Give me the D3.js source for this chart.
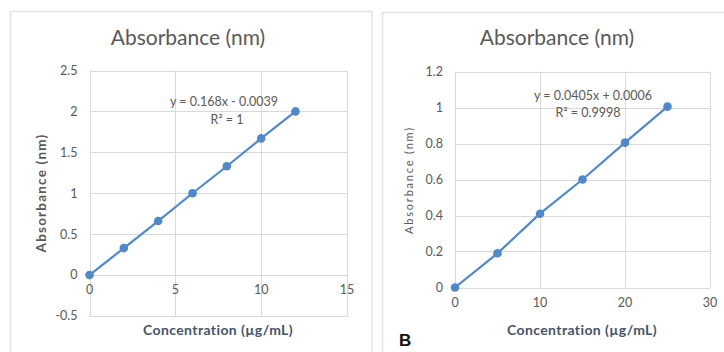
<!DOCTYPE html>
<html><head><meta charset="utf-8">
<script src="https://cdn.jsdelivr.net/npm/d3@7"></script>
<style>
html,body{margin:0;padding:0;background:#fff;}
svg{display:block;font-family:Lato,"Open Sans",sans-serif;}
</style></head>
<body>
<svg id="c" width="724" height="352"></svg>
<script>
// Panel A
const concA = [0, 2, 4, 6, 8, 10, 12];
const absA = [0, 0.33, 0.66, 1.0, 1.33, 1.67, 2.0];
const xTicksA = [0, 5, 10, 15];
const yTicksA = [-0.5, 0, 0.5, 1, 1.5, 2, 2.5];
const eqA = ["y = 0.168x - 0.0039", "R² = 1"];
// Panel B
const concB = [0, 5, 10, 15, 20, 25];
const absB = [0, 0.19, 0.41, 0.60, 0.805, 1.005];
const xTicksB = [0, 10, 20, 30];
const yTicksB = [0, 0.2, 0.4, 0.6, 0.8, 1, 1.2];
const eqB = ["y = 0.0405x + 0.0006", "R² = 0.9998"];
const titleText = "Absorbance (nm)";
const xTitleText = "Concentration (µg/mL)";
const yTitleText = "Absorbance (nm)";

const svg = d3.select("#c");
const grid = "#d9d9d9", txt = "#595959", blue = "#5088c9", xtc = "#44546a";

function panel(o) {
  const g = svg.append("g");
  g.append("rect").attr("x", o.frame[0]).attr("y", o.frame[1])
    .attr("width", o.frame[2]).attr("height", o.frame[3])
    .attr("fill", "#fff").attr("stroke", "#e3e3e3").attr("stroke-width", 1.5);
  const x = d3.scaleLinear().domain(o.xd).range(o.xr);
  const y = d3.scaleLinear().domain(o.yd).range(o.yr);
  g.selectAll(".hg").data(o.yt).join("line")
    .attr("x1", o.xr[0]).attr("x2", o.xr[1])
    .attr("y1", d => Math.round(y(d)) + 0.5).attr("y2", d => Math.round(y(d)) + 0.5)
    .attr("stroke", grid).attr("stroke-width", 1);
  g.selectAll(".vg").data(o.xt).join("line")
    .attr("y1", o.yr[0]).attr("y2", o.yr[1])
    .attr("x1", d => Math.round(x(d)) + 0.5).attr("x2", d => Math.round(x(d)) + 0.5)
    .attr("stroke", grid).attr("stroke-width", 1);
  g.selectAll(".yl").data(o.yt).join("text")
    .attr("x", o.xr[0] - 12).attr("y", d => y(d)).attr("dy", "0.35em")
    .attr("text-anchor", "end").attr("font-size", 12.5).attr("fill", txt)
    .text(d => d);
  g.selectAll(".xl").data(o.xt).join("text")
    .attr("x", d => x(d)).attr("y", y(0) + 19)
    .attr("text-anchor", "middle").attr("font-size", 12.5).attr("fill", txt)
    .text(d => d);
  g.append("text").attr("x", o.title[0]).attr("y", o.title[1])
    .attr("text-anchor", "middle").attr("font-size", 21).attr("fill", txt)
    .text(titleText);
  g.append("text").attr("x", o.xtitle[0]).attr("y", o.xtitle[1])
    .attr("text-anchor", "middle").attr("font-size", 14).attr("font-weight", "bold")
    .attr("letter-spacing", 0.4)
    .attr("fill", xtc).text(xTitleText);
  g.append("text").attr("transform", `translate(${o.ytitle[0]},${o.ytitle[1]}) rotate(-90)`)
    .attr("text-anchor", "middle").attr("font-size", o.ytSize)
    .attr("font-weight", o.ytBold ? "bold" : "normal")
    .attr("letter-spacing", o.ytSpacing)
    .attr("fill", txt).text(yTitleText);
  const pts = o.xs.map((v, i) => [v, o.ys[i]]);
  g.append("path").datum(pts)
    .attr("d", d3.line().x(d => x(d[0])).y(d => y(d[1])))
    .attr("fill", "none").attr("stroke", blue).attr("stroke-width", 2.2);
  g.selectAll(".pt").data(pts).join("circle")
    .attr("cx", d => x(d[0])).attr("cy", d => y(d[1])).attr("r", 4.3)
    .attr("fill", blue);
  g.selectAll(".eq").data(o.eq).join("text")
    .attr("x", (d, i) => o.eqPos[i][0]).attr("y", (d, i) => o.eqPos[i][1])
    .attr("dy", "0.35em").attr("text-anchor", "middle").attr("font-size", 12.5)
    .attr("fill", txt).text(d => d);
}

panel({
  frame: [10.5, 11.5, 361.5, 360],
  xd: [0, 15], xr: [89.5, 347],
  yd: [-0.5, 2.5], yr: [316, 70.5],
  xt: xTicksA, yt: yTicksA, xs: concA, ys: absA,
  title: [188, 45], xtitle: [218, 335], ytitle: [46, 193],
  ytSize: 13.5, ytBold: true, ytSpacing: 1.2,
  eq: eqA, eqPos: [[224, 101.5], [227, 119.5]]
});

panel({
  frame: [382.5, 12.5, 350, 360],
  xd: [0, 30], xr: [455, 710],
  yd: [0, 1.2], yr: [287.5, 71.5],
  xt: xTicksB, yt: yTicksB, xs: concB, ys: absB,
  title: [557, 45], xtitle: [582, 335], ytitle: [413, 180],
  ytSize: 11, ytBold: false, ytSpacing: 1.8,
  eq: eqB, eqPos: [[593, 96], [588, 113]]
});

svg.append("text").attr("x", 399).attr("y", 346).attr("font-size", 17)
  .attr("font-weight", "bold").attr("font-family", "Liberation Sans, Arial, sans-serif")
  .attr("fill", "#111").text("B");
</script>
</body></html>
